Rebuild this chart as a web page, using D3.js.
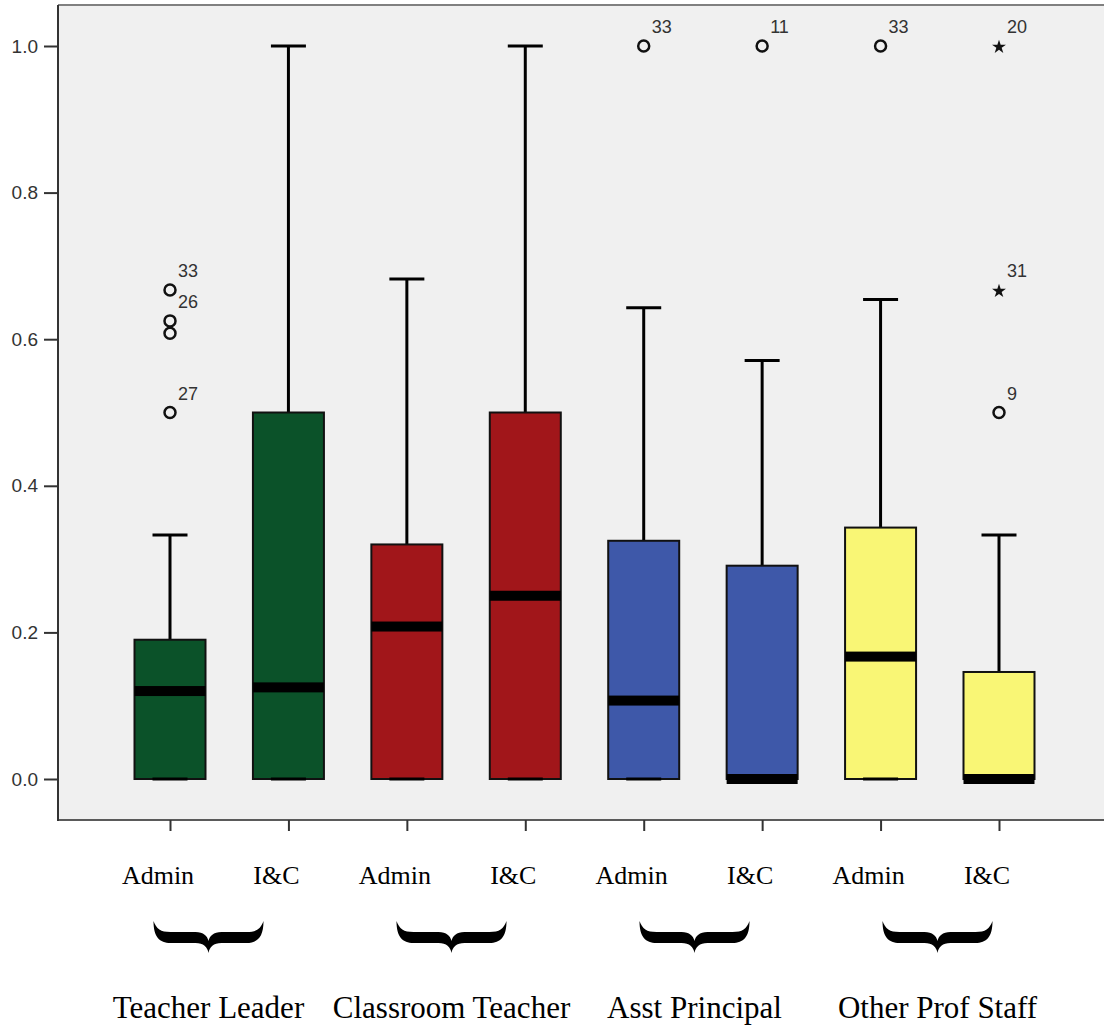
<!DOCTYPE html>
<html>
<head>
<meta charset="utf-8">
<script src="https://cdn.jsdelivr.net/npm/d3@7/dist/d3.min.js"></script>
<style>
  html, body { margin: 0; padding: 0; background: #ffffff; }
  svg { display: block; }
</style>
</head>
<body>
<div id="chart"></div>
<script>
// Job groups and the two sub-scores shown for each
const groups = ["Teacher Leader", "Classroom Teacher", "Asst Principal", "Other Prof Staff"];
const subgroups = ["Admin", "I&C"];
const groupColors = ["#0b5229", "#a1161a", "#3e58a9", "#f9f675"];

// Box statistics, one entry per box (group x subgroup, in order)
const whiskerLow  = [0, 0, 0, 0, 0, 0, 0, 0];
const q1          = [0, 0, 0, 0, 0, 0, 0, 0];
const medians     = [0.120, 0.125, 0.208, 0.250, 0.107, 0.000, 0.167, 0.000];
const q3          = [0.190, 0.500, 0.320, 0.500, 0.325, 0.291, 0.343, 0.146];
const whiskerHigh = [0.333, 1.000, 0.682, 1.000, 0.643, 0.571, 0.654, 0.333];

// Outliers (o) and extreme values (*) with their case labels
const outlierBox   = [0, 0, 0, 0, 4, 5, 6, 7, 7, 7];
const outlierValue = [0.667, 0.625, 0.608, 0.500, 1.000, 1.000, 1.000, 1.000, 0.667, 0.500];
const outlierLabel = ["33", "26", "", "27", "33", "11", "33", "20", "31", "9"];
const outlierKind  = ["o", "o", "o", "o", "o", "o", "o", "*", "*", "o"];

const yTicks = [0, 0.2, 0.4, 0.6, 0.8, 1.0];

const W = 1104, H = 1032;
const frame = { left: 58, top: 5, right: 1104, bottom: 820 };

const boxes = [];
groups.forEach((g, gi) => subgroups.forEach((s, si) => {
  const i = gi * subgroups.length + si;
  boxes.push({
    id: g + "|" + s, group: g, gi, sub: s,
    lo: whiskerLow[i], q1: q1[i], med: medians[i], q3: q3[i], hi: whiskerHigh[i],
    color: groupColors[gi]
  });
}));

const svg = d3.select("#chart").append("svg")
  .attr("width", W).attr("height", H)
  .attr("font-family", "'Liberation Sans', Arial, sans-serif");

const x = d3.scalePoint().domain(boxes.map(b => b.id)).range([170, 999]);
const y = d3.scaleLinear().domain([0, 1]).range([779, 46]);

const boxW = 71, capW = 35;

// plot background
svg.append("rect")
  .attr("x", frame.left).attr("y", frame.top)
  .attr("width", frame.right - frame.left).attr("height", frame.bottom - frame.top)
  .attr("fill", "#f0f0f0");

// frame lines
svg.append("line").attr("x1", frame.left).attr("x2", frame.right)
  .attr("y1", frame.top).attr("y2", frame.top)
  .attr("stroke", "#808080").attr("stroke-width", 2);
svg.append("line").attr("x1", frame.left).attr("x2", frame.right)
  .attr("y1", frame.bottom).attr("y2", frame.bottom)
  .attr("stroke", "#5a5a5a").attr("stroke-width", 2);
svg.append("line").attr("x1", frame.left).attr("x2", frame.left)
  .attr("y1", frame.top).attr("y2", frame.bottom + 1)
  .attr("stroke", "#333").attr("stroke-width", 2);

// y axis
const yAxis = svg.append("g")
  .attr("transform", `translate(${frame.left},0)`)
  .call(d3.axisLeft(y).tickValues(yTicks).tickFormat(d3.format(".1f")).tickSize(14).tickPadding(6));
yAxis.select(".domain").remove();
yAxis.selectAll(".tick line").attr("stroke", "#333").attr("stroke-width", 2);
yAxis.selectAll(".tick text").attr("fill", "#333").attr("font-size", 19)
  .attr("font-family", "'Liberation Sans', Arial, sans-serif");

// x axis ticks (category names are written below separately)
const xAxis = svg.append("g")
  .attr("transform", `translate(0,${frame.bottom})`)
  .call(d3.axisBottom(x).tickSize(11).tickFormat(""));
xAxis.select(".domain").remove();
xAxis.selectAll(".tick line").attr("stroke", "#333").attr("stroke-width", 2);

// boxes
const bx = svg.append("g").selectAll("g").data(boxes).join("g")
  .attr("transform", d => `translate(${x(d.id)},0)`);

// whisker stems
bx.append("line")
  .attr("x1", 0).attr("x2", 0)
  .attr("y1", d => y(d.q3)).attr("y2", d => y(d.hi))
  .attr("stroke", "#000").attr("stroke-width", 3);
bx.append("line")
  .attr("x1", 0).attr("x2", 0)
  .attr("y1", d => y(d.q1)).attr("y2", d => y(d.lo))
  .attr("stroke", "#000").attr("stroke-width", 3);

// box body
bx.append("rect")
  .attr("x", -boxW / 2).attr("width", boxW)
  .attr("y", d => y(d.q3)).attr("height", d => y(d.q1) - y(d.q3))
  .attr("fill", d => d.color)
  .attr("stroke", "#111").attr("stroke-width", 2);

// whisker caps
bx.append("line")
  .attr("x1", -capW / 2).attr("x2", capW / 2)
  .attr("y1", d => y(d.hi)).attr("y2", d => y(d.hi))
  .attr("stroke", "#000").attr("stroke-width", 3);
bx.append("line")
  .attr("x1", -capW / 2).attr("x2", capW / 2)
  .attr("y1", d => y(d.lo)).attr("y2", d => y(d.lo))
  .attr("stroke", "#000").attr("stroke-width", 3);

// median band
bx.append("rect")
  .attr("x", -boxW / 2).attr("width", boxW)
  .attr("y", d => y(d.med) - 5).attr("height", 10)
  .attr("fill", "#000");

// outliers and extremes
const outliers = outlierValue.map((v, i) => ({
  id: boxes[outlierBox[i]].id, value: v, label: outlierLabel[i], kind: outlierKind[i]
}));
const og = svg.append("g");
og.selectAll("circle").data(outliers.filter(d => d.kind === "o")).join("circle")
  .attr("cx", d => x(d.id)).attr("cy", d => y(d.value)).attr("r", 5.5)
  .attr("fill", "none").attr("stroke", "#111").attr("stroke-width", 2.5);
og.selectAll("path").data(outliers.filter(d => d.kind === "*")).join("path")
  .attr("transform", d => `translate(${x(d.id)},${y(d.value) + 1})`)
  .attr("d", d3.symbol(d3.symbolStar, 60))
  .attr("fill", "#111");
og.selectAll("text").data(outliers.filter(d => d.label)).join("text")
  .attr("x", d => x(d.id) + 8).attr("y", d => y(d.value) - 13)
  .attr("font-size", 18).attr("fill", "#333")
  .text(d => d.label);

// sub-score labels under each box
svg.append("g").selectAll("text").data(boxes).join("text")
  .attr("x", d => x(d.id) - 12).attr("y", 884)
  .attr("text-anchor", "middle")
  .attr("font-family", "'Liberation Serif', 'Times New Roman', serif")
  .attr("font-size", 26).attr("fill", "#000")
  .text(d => d.sub);

// braces and group names
const gx = d3.scaleLinear().domain([0, groups.length - 1]).range([208.5, 937.5]);
const braceW = 110;
const bracePath =
  "M0,0 C0,16 6,22 17,22 L42,22 C50,22 54,26 55,32 C56,26 60,22 68,22 L93,22 " +
  "C104,22 110,16 110,0 C107,8 103,11 93,11 L68,11 C60,11 56,15 55,20 " +
  "C54,15 50,11 42,11 L17,11 C7,11 3,8 0,0 Z";
svg.append("g").selectAll("path").data(groups).join("path")
  .attr("transform", (d, i) => `translate(${gx(i) - braceW / 2},921)`)
  .attr("d", bracePath)
  .attr("fill", "#000");

svg.append("g").selectAll("text").data(groups).join("text")
  .attr("x", (d, i) => gx(i)).attr("y", 1018)
  .attr("text-anchor", "middle")
  .attr("font-family", "'Liberation Serif', 'Times New Roman', serif")
  .attr("font-size", 31).attr("fill", "#000")
  .text(d => d);
</script>
</body>
</html>
